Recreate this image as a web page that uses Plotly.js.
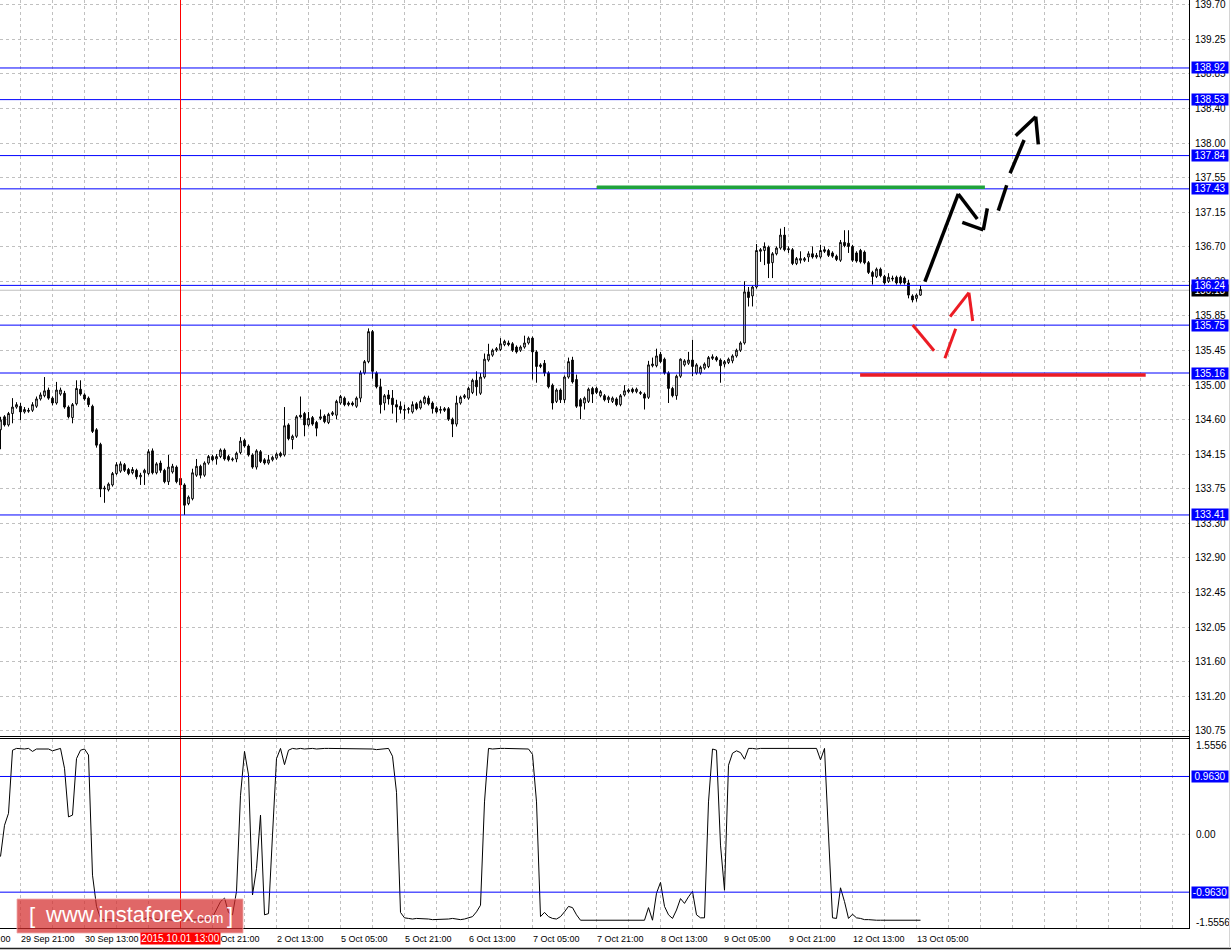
<!DOCTYPE html>
<html><head><meta charset="utf-8">
<script src="https://cdn.plot.ly/plotly-3.0.1.min.js"></script>
<style>html,body{margin:0;padding:0;background:#fff;overflow:hidden}#chart{width:1231px;height:950px}</style>
</head><body><div id="chart"></div>
<script>
// ---------------- DATA ----------------
// H1 bars, index 0 = 29 Sep 16:00 ... index 230 = 13 Oct 06:00
const open = [134.46,134.62,134.52,134.66,134.74,134.75,134.68,134.70,134.70,134.75,
134.84,134.88,134.95,134.85,134.79,134.90,134.91,134.74,134.61,134.78,
134.96,134.89,134.85,134.75,134.46,134.28,133.73,133.72,133.78,133.92,
133.95,134.03,133.97,133.93,133.96,133.88,133.93,133.92,134.20,133.93,
134.05,133.96,133.82,133.94,134.00,133.86,133.78,133.55,133.61,133.90,
134.01,133.90,134.05,134.13,134.10,134.13,134.21,134.13,134.09,134.10,
134.18,134.33,134.26,134.15,134.00,134.19,134.09,134.05,134.09,134.11,
134.17,134.15,134.52,134.34,134.38,134.64,134.66,134.52,134.61,134.55,
134.60,134.63,134.55,134.65,134.64,134.79,134.85,134.77,134.79,134.75,
134.85,135.16,135.30,135.67,135.16,134.99,134.79,134.89,134.85,134.77,
134.75,134.70,134.71,134.68,134.78,134.73,134.79,134.85,134.79,134.73,
134.70,134.72,134.72,134.59,134.53,134.79,134.86,134.85,134.92,135.07,
134.91,135.11,135.32,135.38,135.44,135.45,135.51,135.53,135.52,135.48,
135.44,135.48,135.53,135.59,135.42,135.24,135.28,135.16,135.01,134.81,
134.95,134.83,135.11,135.32,135.08,134.83,134.79,134.81,134.97,134.97,
134.88,134.88,134.83,134.81,134.84,134.77,134.89,134.93,134.96,134.93,
134.92,134.90,134.86,135.25,135.25,135.39,135.33,135.16,134.97,134.88,
135.12,135.26,135.28,135.32,135.16,135.16,135.22,135.24,135.34,135.35,
135.32,135.27,135.29,135.31,135.37,135.44,135.53,136.16,136.11,136.22,
136.66,136.67,136.71,136.52,136.63,136.70,136.86,136.68,136.68,136.51,
136.55,136.55,136.59,136.63,136.59,136.59,136.68,136.67,136.64,136.60,
136.55,136.77,136.76,136.72,136.64,136.67,136.65,136.52,136.40,136.35,
136.44,136.35,136.29,136.33,136.34,136.34,136.33,136.27,136.11,136.08,
136.12];
const high = [134.62,134.64,134.68,134.85,134.80,134.79,134.74,134.73,134.80,134.87,
134.92,135.11,134.98,134.87,135.05,134.98,134.94,134.76,134.79,135.07,
135.07,134.91,134.87,134.77,134.48,134.30,133.77,133.81,133.94,134.06,
134.07,134.05,133.99,134.00,133.98,133.93,133.98,134.22,134.23,134.06,
134.08,133.98,134.15,134.04,134.02,133.88,133.80,133.65,133.98,134.10,
134.03,134.07,134.15,134.15,134.16,134.23,134.23,134.15,134.12,134.19,
134.37,134.35,134.28,134.17,134.22,134.21,134.11,134.15,134.14,134.18,
134.19,134.74,134.54,134.40,134.64,134.87,134.68,134.68,134.63,134.57,
134.71,134.65,134.67,134.69,134.83,134.89,134.87,134.81,134.81,134.87,
135.19,135.32,135.71,135.69,135.18,135.09,134.90,134.95,134.95,134.83,
134.81,134.77,134.74,134.81,134.80,134.83,134.88,134.88,134.81,134.75,
134.75,134.74,134.74,134.61,134.88,134.88,134.90,134.99,135.09,135.18,
135.16,135.40,135.52,135.46,135.48,135.59,135.57,135.56,135.54,135.50,
135.50,135.62,135.61,135.61,135.44,135.28,135.32,135.18,135.03,134.97,
134.97,135.13,135.35,135.36,135.14,134.85,134.87,134.98,134.99,134.99,
134.95,134.90,134.88,134.87,134.86,134.90,135.01,134.97,134.98,134.98,
134.94,134.92,135.31,135.35,135.46,135.42,135.35,135.18,134.99,135.14,
135.34,135.33,135.42,135.57,135.28,135.25,135.29,135.37,135.39,135.37,
135.34,135.32,135.35,135.39,135.46,135.55,136.29,136.22,136.24,136.75,
136.70,136.77,136.73,136.65,136.72,136.94,136.96,136.72,136.70,136.59,
136.66,136.59,136.66,136.72,136.64,136.74,136.72,136.69,136.66,136.62,
136.80,136.92,136.92,136.74,136.66,136.69,136.67,136.54,136.42,136.46,
136.46,136.37,136.39,136.36,136.36,136.36,136.35,136.31,136.13,136.14,
136.24];
const low = [134.22,134.50,134.50,134.54,134.72,134.58,134.66,134.67,134.68,134.73,
134.82,134.86,134.83,134.76,134.77,134.88,134.72,134.60,134.54,134.76,
134.88,134.82,134.74,134.42,134.24,133.63,133.56,133.70,133.76,133.90,
133.93,133.94,133.90,133.91,133.85,133.78,133.78,133.90,133.91,133.91,
133.93,133.80,133.78,133.92,133.80,133.76,133.41,133.53,133.59,133.88,
133.86,133.88,134.03,134.07,134.03,134.11,134.08,134.07,134.07,134.06,
134.16,134.24,134.13,133.98,133.97,134.05,134.03,134.03,134.07,134.09,
134.12,134.13,134.33,134.22,134.36,134.60,134.38,134.50,134.51,134.38,
134.58,134.54,134.53,134.63,134.59,134.77,134.75,134.75,134.75,134.73,
134.80,135.14,135.28,135.09,134.97,134.66,134.70,134.77,134.66,134.55,
134.66,134.59,134.66,134.66,134.70,134.71,134.77,134.76,134.66,134.66,
134.66,134.68,134.57,134.37,134.50,134.77,134.84,134.83,134.90,134.88,
134.89,135.09,135.30,135.36,135.42,135.43,135.49,135.49,135.42,135.40,
135.42,135.46,135.51,135.08,135.04,135.22,135.12,134.97,134.71,134.79,
134.79,134.79,135.09,135.03,134.73,134.59,134.71,134.79,134.79,134.90,
134.86,134.81,134.79,134.79,134.75,134.75,134.87,134.91,134.91,134.91,
134.89,134.71,134.84,135.23,135.23,135.28,135.14,134.79,134.86,134.83,
135.10,135.24,135.26,135.12,135.14,135.14,135.20,135.22,135.32,135.30,
135.04,135.23,135.27,135.28,135.35,135.42,135.51,135.98,135.98,136.20,
136.53,136.49,136.33,136.33,136.61,136.68,136.66,136.64,136.49,136.49,
136.51,136.53,136.53,136.57,136.57,136.57,136.64,136.59,136.58,136.54,
136.53,136.71,136.64,136.53,136.52,136.51,136.50,136.38,136.25,136.33,
136.34,136.25,136.27,136.29,136.25,136.25,136.25,136.08,136.03,136.04,
136.11];
const close = [134.58,134.52,134.66,134.74,134.77,134.68,134.71,134.69,134.77,134.84,
134.89,134.94,134.85,134.79,134.95,134.95,134.74,134.62,134.77,134.97,
134.90,134.84,134.77,134.44,134.27,133.73,133.74,133.79,133.92,134.03,
134.04,133.96,133.92,133.97,133.88,133.90,133.96,134.19,133.93,134.04,
133.96,133.82,134.00,134.01,133.82,133.78,133.53,133.63,133.93,134.01,
133.90,134.05,134.13,134.09,134.13,134.21,134.10,134.09,134.10,134.17,
134.32,134.26,134.15,134.00,134.20,134.07,134.05,134.09,134.12,134.16,
134.14,134.51,134.35,134.38,134.62,134.62,134.52,134.60,134.53,134.48,
134.62,134.56,134.65,134.67,134.81,134.87,134.77,134.79,134.77,134.85,
135.16,135.30,135.67,135.18,134.99,134.77,134.88,134.84,134.77,134.74,
134.71,134.71,134.72,134.77,134.72,134.81,134.86,134.78,134.72,134.68,
134.71,134.70,134.59,134.53,134.79,134.86,134.88,134.97,135.07,134.99,
135.11,135.33,135.39,135.44,135.46,135.52,135.55,135.51,135.44,135.42,
135.48,135.53,135.59,135.42,135.24,135.26,135.16,134.99,134.79,134.95,
134.83,135.11,135.30,135.05,134.75,134.75,134.85,134.96,134.90,134.92,
134.93,134.83,134.86,134.85,134.77,134.88,134.94,134.95,134.93,134.96,
134.91,134.85,135.26,135.27,135.37,135.30,135.16,134.97,134.88,135.12,
135.33,135.31,135.32,135.24,135.26,135.23,135.27,135.35,135.36,135.32,
135.25,135.30,135.33,135.37,135.44,135.53,136.16,136.09,136.22,136.67,
136.68,136.72,136.51,136.63,136.70,136.86,136.68,136.69,136.51,136.57,
136.57,136.57,136.63,136.59,136.61,136.67,136.66,136.61,136.60,136.56,
136.77,136.73,136.72,136.55,136.54,136.53,136.52,136.40,136.35,136.44,
136.36,136.27,136.34,136.32,136.27,136.27,136.27,136.12,136.06,136.12,
136.19];
// oscillator in the lower window
const oscillator = [
-0.37,0.15,0.35,1.40,1.43,1.42,1.42,1.43,1.38,1.42,
1.42,1.43,1.42,1.39,1.41,1.43,1.10,0.29,0.32,1.26,
1.40,1.42,1.32,-0.68,-1.20,-1.40,-1.43,-1.42,-1.43,-1.43,
-1.42,-1.43,-1.43,-1.42,-1.43,-1.43,-1.41,-1.38,-1.40,-1.42,
-1.43,-1.43,-1.42,-1.43,-1.43,-1.43,-1.43,-1.43,-1.42,-1.43,
-1.43,-1.43,-1.42,-1.38,-1.25,-1.12,-1.06,-1.30,-1.34,-0.95,
0.65,1.38,0.99,-1.01,-0.57,0.32,-1.34,-1.32,-0.01,1.26,
1.43,1.16,1.40,1.43,1.42,1.43,1.42,1.43,1.43,1.42,
1.43,1.43,1.43,1.43,1.43,1.43,1.43,1.43,1.43,1.42,
1.43,1.42,1.43,1.42,1.41,1.42,1.43,1.43,1.30,0.70,
-1.30,-1.39,-1.40,-1.41,-1.40,-1.40,-1.40,-1.41,-1.42,-1.42,
-1.42,-1.42,-1.41,-1.40,-1.41,-1.42,-1.41,-1.39,-1.37,-1.29,
-1.18,0.54,1.43,1.42,1.43,1.43,1.43,1.43,1.43,1.43,
1.42,1.43,1.42,1.33,0.54,-1.37,-1.30,-1.37,-1.40,-1.41,
-1.37,-1.29,-1.20,-1.22,-1.34,-1.43,-1.43,-1.43,-1.43,-1.43,
-1.43,-1.43,-1.43,-1.42,-1.43,-1.43,-1.43,-1.43,-1.43,-1.43,
-1.43,-1.43,-1.22,-1.43,-0.98,-0.80,-1.20,-1.34,-1.40,-1.26,
-1.07,-1.15,-1.04,-0.95,-1.34,-1.39,-1.39,0.54,1.42,1.40,
-0.18,-0.93,1.15,1.35,1.39,1.36,1.25,1.43,1.43,1.42,
1.43,1.43,1.43,1.43,1.42,1.43,1.43,1.43,1.43,1.43,
1.43,1.42,1.43,1.43,1.43,1.24,1.43,-0.01,-1.39,-1.40,
-0.89,-1.12,-1.40,-1.33,-1.39,-1.40,-1.42,-1.42,-1.43,-1.43,
-1.43,-1.43,-1.43,-1.43,-1.43,-1.43,-1.43,-1.43,-1.43,-1.43,
-1.43];
const barIndex = open.map((_, i) => i);

// price axis labels (top to bottom)
const priceTickText = ['139.70','139.25','138.85','138.40','138.00','137.55','137.15','136.70',
  '136.30','135.85','135.45','135.00','134.60','134.15','133.75','133.30','132.90','132.45',
  '132.05','131.60','131.20','130.75'];
// oscillator axis labels
const oscTickText = ['1.5556','0.00','-1.5556'];
const oscTickVals = [1.475, 0, -1.472];

// time labels (bar index where label starts)
const timeLabelIdx = [-11,5,21,37,53,69,85,101,117,133,149,165,181,197,213,229];
const timeLabels = ['29 Sep 05:00','29 Sep 21:00','30 Sep 13:00','1 Oct 05:00','1 Oct 21:00',
  '2 Oct 13:00','5 Oct 05:00','5 Oct 21:00','6 Oct 13:00','7 Oct 05:00','7 Oct 21:00',
  '8 Oct 13:00','9 Oct 05:00','9 Oct 21:00','12 Oct 13:00','13 Oct 05:00'];
const markerIdx = 45;
const markerLabel = '2015.10.01 13:00';

// horizontal levels
const priceLevels = [138.92, 138.53, 137.84, 137.43, 136.24, 135.75, 135.16, 133.41];
const bidPrice = 136.18;
const oscLevels = [0.9630, -0.9630];

// hand drawn forecast (bar index, price)
const greenLine = [149.1, 137.45, 246.1, 137.45];
const redLine = [214.9, 135.135, 286.3, 135.135];
const blackStrokes = [
  [231.1,136.286,239.45,137.367],[239.45,137.367,244.2,137.059],
  [240.45,137.018,245.7,136.923],[245.7,136.923,246.7,137.19],
  [249.45,137.161,251.55,137.474],[252.4,137.622,255.9,138.032],
  [253.8,138.085,258.8,138.32],[258.8,138.32,259.45,137.979]];
const redStrokes = [
  [228.05,135.752,233.4,135.435],[236.1,135.341,238.8,135.706],
  [237.4,135.854,242.1,136.15],[242.1,136.15,243.05,135.801]];

// ---------------- LAYOUT ----------------
const W = 1231, H = 950, PW = 1190, PH = 929;
const xMin = -0.125, xMax = 297.375;
const yMin = 130.679, yMax = 139.758;
const oMin = -1.576, oMax = 1.595;
const px = v => v / PW;              // page x -> paper
const py = v => (PH - v) / PH;       // page y -> paper
const idxToPaper = i => (i - xMin) / (xMax - xMin);

const priceTickVals = priceTickText.map((_, k) => 139.70 - k * (139.70 - 130.75) / 21);
const gridIdx = [];
for (let g = -3; g < 300; g += 8) gridIdx.push(g);

const FONT = 'Liberation Sans, Arial, sans-serif';
const BLUE = '#0000ff';
const GRID = '#c0c0c0';

const shapes = [];
shapes.push({type:'line', xref:'paper', yref:'y2', x0:0, x1:1, y0:0, y1:0,
  line:{color:GRID, width:1, dash:'3px,3px'}, layer:'below'});
shapes.push({type:'line', xref:'paper', yref:'y', x0:0, x1:1, y0:bidPrice, y1:bidPrice,
  line:{color:'#c0c0c0', width:1}, layer:'between'});
priceLevels.forEach(v => shapes.push({type:'line', xref:'paper', yref:'y', x0:0, x1:1, y0:v, y1:v,
  line:{color:BLUE, width:1}, layer:'above'}));
oscLevels.forEach(v => shapes.push({type:'line', xref:'paper', yref:'y2', x0:0, x1:1, y0:v, y1:v,
  line:{color:BLUE, width:1}, layer:'above'}));
shapes.push({type:'line', xref:'x', yref:'paper', x0:markerIdx, x1:markerIdx, y0:0, y1:1,
  line:{color:'#ff0000', width:1}, layer:'above'});
shapes.push({type:'line', xref:'x', yref:'y', x0:greenLine[0], y0:greenLine[1], x1:greenLine[2], y1:greenLine[3],
  line:{color:'#1fa33c', width:3.5}, layer:'above'});
shapes.push({type:'line', xref:'x', yref:'y', x0:redLine[0], y0:redLine[1], x1:redLine[2], y1:redLine[3],
  line:{color:'#ec1c24', width:3.5}, layer:'above'});
blackStrokes.forEach(s => shapes.push({type:'line', xref:'x', yref:'y', x0:s[0], y0:s[1], x1:s[2], y1:s[3],
  line:{color:'#000', width:3.5}, layer:'above'}));
redStrokes.forEach(s => shapes.push({type:'line', xref:'x', yref:'y', x0:s[0], y0:s[1], x1:s[2], y1:s[3],
  line:{color:'#ec1c24', width:3}, layer:'above'}));
shapes.push({type:'line', xref:'paper', yref:'paper', x0:0, x1:1, y0:py(736.5), y1:py(736.5), line:{color:'#000', width:1}, layer:'above'});
shapes.push({type:'line', xref:'paper', yref:'paper', x0:0, x1:1, y0:py(738.5), y1:py(738.5), line:{color:'#000', width:1}, layer:'above'});
shapes.push({type:'line', xref:'paper', yref:'paper', x0:0, x1:1, y0:py(928.5), y1:py(928.5), line:{color:'#000', width:1}, layer:'above'});
shapes.push({type:'line', xref:'paper', yref:'paper', x0:px(1189.5), x1:px(1189.5), y0:py(0), y1:py(929), line:{color:'#000', width:1}, layer:'above'});
shapes.push({type:'line', xref:'paper', yref:'paper', x0:0, x1:px(1231), y0:py(948.5), y1:py(948.5), line:{color:'#222', width:1.5}, layer:'above'});
shapes.push({type:'line', xref:'paper', yref:'paper', x0:px(1229.5), x1:px(1229.5), y0:py(0), y1:py(948), line:{color:'#d4d4d4', width:1}, layer:'above'});
shapes.push({type:'rect', xref:'paper', yref:'paper', x0:px(17), x1:px(243), y0:py(933), y1:py(899),
  fillcolor:'rgba(212,45,45,0.72)', line:{width:1, color:'rgba(240,170,170,0.8)'}, layer:'above'});

const annotations = [];
// price scale labels
priceTickText.forEach((t, k) => annotations.push({xref:'paper', yref:'y', x:1, xshift:3, y:priceTickVals[k],
  xanchor:'left', yanchor:'middle', text:t, showarrow:false, font:{family:FONT, size:10, color:'#000'}}));
// time labels
timeLabelIdx.forEach((idx, k) => annotations.push({xref:'paper', yref:'paper',
  x: idxToPaper(idx), y: py(938.5), xanchor:'left', yanchor:'middle', xshift:-2,
  text: timeLabels[k], showarrow:false, font:{family:FONT, size:9, color:'#000'}}));
annotations.push({xref:'x', yref:'paper', x:markerIdx, y:py(938.5), xanchor:'center', yanchor:'middle',
  text:markerLabel, showarrow:false, bgcolor:'#ff0000', width:79, height:11, borderpad:0,
  font:{family:FONT, size:10, color:'#fff'}});
annotations.push({xref:'paper', yref:'y', x:1, xshift:1, y:bidPrice, xanchor:'left', yanchor:'middle',
  text:bidPrice.toFixed(2), showarrow:false, bgcolor:'#000', width:36, height:11, borderpad:0,
  font:{family:FONT, size:10, color:'#fff'}});
priceLevels.forEach(v => annotations.push({xref:'paper', yref:'y', x:1, xshift:1, y:v, xanchor:'left', yanchor:'middle',
  text:v.toFixed(2), showarrow:false, bgcolor:BLUE, width:36, height:11, borderpad:0,
  font:{family:FONT, size:10, color:'#fff'}}));
oscLevels.forEach(v => annotations.push({xref:'paper', yref:'y2', x:1, xshift:1, y:v, xanchor:'left', yanchor:'middle',
  text:v.toFixed(4), showarrow:false, bgcolor:BLUE, width:36, height:11, borderpad:0,
  font:{family:FONT, size:10, color:'#fff'}}));
const wm = {showarrow:false, xref:'paper', yref:'paper', xanchor:'left', yanchor:'middle'};
annotations.push(Object.assign({}, wm, {x:px(27), y:py(915), text:'[', font:{family:FONT, size:22, color:'#fff'}}));
annotations.push(Object.assign({}, wm, {x:px(43), y:py(914), text:'www.instaforex', font:{family:FONT, size:22, color:'#fff'}}));
annotations.push(Object.assign({}, wm, {x:px(191), y:py(918), text:'.com', font:{family:FONT, size:14, color:'#fff'}}));
annotations.push(Object.assign({}, wm, {x:px(225), y:py(915), text:']', font:{family:FONT, size:22, color:'#fff'}}));

const data = [
  {type:'candlestick', x:barIndex, open:open, high:high, low:low, close:close,
   xaxis:'x', yaxis:'y', whiskerwidth:0, hoverinfo:'skip',
   increasing:{line:{color:'#000', width:1}, fillcolor:'#fff'},
   decreasing:{line:{color:'#000', width:1}, fillcolor:'#000'}},
  {type:'scatter', mode:'lines', x:barIndex, y:oscillator, xaxis:'x2', yaxis:'y2',
   line:{color:'#000', width:1}, hoverinfo:'skip'}
];

const xCommon = {range:[xMin, xMax], tickvals:gridIdx, showticklabels:false, ticks:'',
  showgrid:true, gridcolor:GRID, griddash:'3px,3px', gridwidth:1, zeroline:false, showline:false, fixedrange:true};

const layout = {
  width:W, height:H, margin:{l:0, r:W-PW, t:0, b:H-PH},
  paper_bgcolor:'#fff', plot_bgcolor:'#fff', showlegend:false, boxgap:0.4,
  font:{family:FONT, size:10, color:'#000'},
  xaxis:Object.assign({}, xCommon, {anchor:'y', rangeslider:{visible:false}}),
  xaxis2:Object.assign({}, xCommon, {anchor:'y2'}),
  yaxis:{domain:[py(736.5), 1], range:[yMin, yMax], side:'right', anchor:'x',
    tickvals:priceTickVals, showticklabels:false, ticks:'',
    showgrid:true, gridcolor:GRID, griddash:'3px,3px', zeroline:false, showline:false, fixedrange:true},
  yaxis2:{domain:[0, py(738.5)], range:[oMin, oMax], side:'right', anchor:'x2',
    tickvals:oscTickVals, ticktext:oscTickText, ticks:'outside', ticklen:3, tickcolor:'rgba(0,0,0,0)',
    tickfont:{family:FONT, size:10, color:'#000'},
    showgrid:false, zeroline:false, showline:false, fixedrange:true},
  shapes:shapes, annotations:annotations
};

Plotly.newPlot('chart', data, layout, {displayModeBar:false, staticPlot:true});
</script>
</body></html>
